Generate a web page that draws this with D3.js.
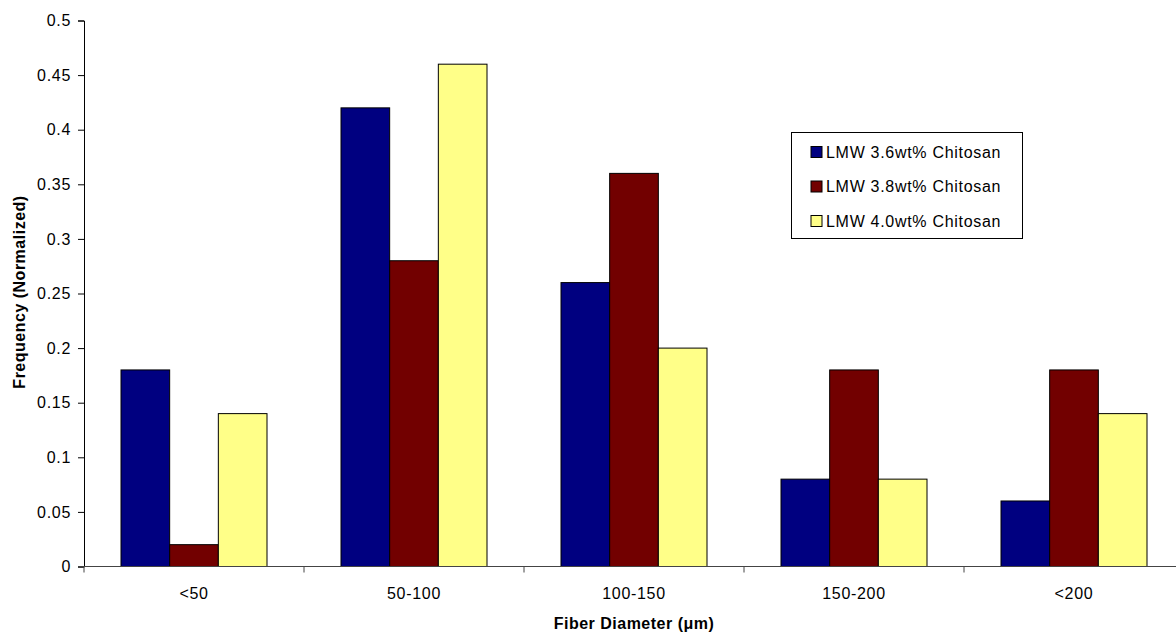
<!DOCTYPE html>
<html>
<head>
<meta charset="utf-8">
<script src="https://cdn.jsdelivr.net/npm/d3@7"></script>
<style>
  body { margin: 0; background: #fff; }
  svg { display: block; font-family: "Liberation Sans", Arial, sans-serif; }
</style>
</head>
<body>
<svg id="chart" width="1176" height="632"></svg>
<script>
const categories = ["<50", "50-100", "100-150", "150-200", "<200"];
const seriesNames = ["LMW 3.6wt% Chitosan", "LMW 3.8wt% Chitosan", "LMW 4.0wt% Chitosan"];
const lmw36 = [0.18, 0.42, 0.26, 0.08, 0.06];
const lmw38 = [0.02, 0.28, 0.36, 0.18, 0.18];
const lmw40 = [0.14, 0.46, 0.20, 0.08, 0.14];
const yTicks = [0, 0.05, 0.1, 0.15, 0.2, 0.25, 0.3, 0.35, 0.4, 0.45, 0.5];
const colors = ["#000080", "#720000", "#ffff88"];

const series = [lmw36, lmw38, lmw40];
const svg = d3.select("#chart");

// plot area (right edge runs past the window like the original)
const plotLeft = 84, plotRight = 1184, plotTop = 20.5, plotBottom = 566.5;

const x = d3.scaleBand().domain(categories).range([plotLeft, plotRight]).paddingInner(0).paddingOuter(0);
const x1 = d3.scaleBand().domain(d3.range(3)).range([37, x.bandwidth() - 37]);
const y = d3.scaleLinear().domain([0, 0.5]).range([plotBottom, plotTop]);

// bars
categories.forEach((c, i) => {
  const g = svg.append("g").attr("transform", `translate(${x(c)},0)`);
  series.forEach((s, j) => {
    g.append("rect")
      .attr("x", x1(j))
      .attr("y", y(s[i]))
      .attr("width", x1.bandwidth())
      .attr("height", y(0) - y(s[i]))
      .style("fill", colors[j])
      .style("stroke", "#000")
      .style("stroke-width", 1);
  });
});

// y axis
const yAxis = svg.append("g")
  .attr("transform", `translate(${plotLeft},0)`)
  .call(d3.axisLeft(y).tickValues(yTicks).tickSize(6).tickPadding(7).tickFormat(d => String(+d.toFixed(2))));
yAxis.select(".domain").attr("stroke", "#000");
yAxis.selectAll(".tick line").attr("stroke", "#000");
yAxis.selectAll("text")
  .style("font-size", "16px")
  .style("letter-spacing", "0.7px")
  .style("font-family", "'Liberation Sans', Arial, sans-serif")
  .attr("fill", "#000");

// x axis line and boundary ticks
svg.append("line")
  .attr("x1", plotLeft).attr("x2", plotRight)
  .attr("y1", plotBottom).attr("y2", plotBottom)
  .attr("stroke", "#444");
svg.selectAll(".xtick")
  .data(d3.range(categories.length + 1))
  .enter()
  .append("line")
  .attr("x1", d => plotLeft + d * x.bandwidth())
  .attr("x2", d => plotLeft + d * x.bandwidth())
  .attr("y1", plotBottom)
  .attr("y2", plotBottom + 6)
  .attr("stroke", "#444");
svg.selectAll(".xlabel")
  .data(categories)
  .enter()
  .append("text")
  .attr("x", d => x(d) + x.bandwidth() / 2)
  .attr("y", 599)
  .attr("text-anchor", "middle")
  .style("font-size", "16px")
  .style("letter-spacing", "0.7px")
  .text(d => d);

// axis titles
svg.append("text")
  .attr("x", (plotLeft + plotRight) / 2)
  .attr("y", 629)
  .attr("text-anchor", "middle")
  .style("font-size", "16px")
  .style("letter-spacing", "0.5px")
  .style("font-weight", "bold")
  .text("Fiber Diameter (\u03bcm)");
svg.append("text")
  .attr("transform", "translate(24.5,292) rotate(-90)")
  .attr("text-anchor", "middle")
  .style("font-size", "16px")
  .style("letter-spacing", "0.5px")
  .style("font-weight", "bold")
  .text("Frequency (Normalized)");

// legend
const legend = svg.append("g").attr("transform", "translate(791.5,132.5)");
legend.append("rect")
  .attr("width", 231).attr("height", 106)
  .style("fill", "#fff").style("stroke", "#000");
seriesNames.forEach((name, j) => {
  const row = legend.append("g").attr("transform", `translate(19.5,${14 + j * 34.5})`);
  row.append("rect")
    .attr("width", 11).attr("height", 11)
    .style("fill", colors[j]).style("stroke", "#000");
  row.append("text")
    .attr("x", 15)
    .attr("y", 11)
    .style("font-size", "16px")
    .style("letter-spacing", "0.7px")
    .text(name);
});
</script>
</body>
</html>
